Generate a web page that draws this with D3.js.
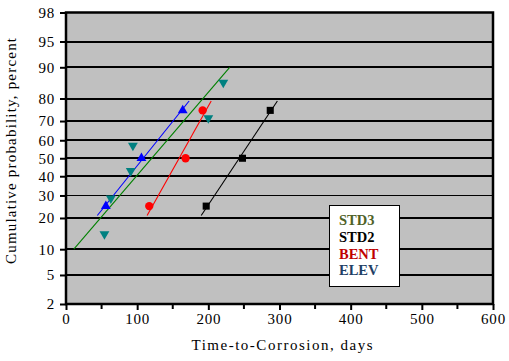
<!DOCTYPE html>
<html><head><meta charset="utf-8">
<script src="https://cdn.jsdelivr.net/npm/d3@7"></script>
<style>body{margin:0;background:#fff}svg{display:block}</style>
</head><body>
<svg id="c" width="509" height="361"></svg>
<script>
// ---- data ----
const xTicks = [0,100,200,300,400,500,600];
const xMinorTicks = [50,150,250,350,450,550];
const yTicks = [2,5,10,20,30,40,50,60,70,80,90,95,98];
const legendLabels = ["STD3","STD2","BENT","ELEV"];

const std3Days = [54, 63, 91, 94, 200, 221];
const std3Prob = [14.3, 28.6, 42.9, 57.1, 71.4, 85.7];
const std2Days = [197, 248, 287];
const std2Prob = [25, 50, 75];
const bentDays = [117, 168, 192];
const bentProb = [25, 50, 75];
const elevDays = [56, 106, 164];
const elevProb = [25, 50, 75];

// fitted-line end points [days, percent]
const std3FitDays = [11, 230];
const std3FitProb = [10, 90];
const std2FitDays = [190, 297];
const std2FitProb = [21, 79];
const bentFitDays = [114, 204];
const bentFitProb = [21, 79];
const elevFitDays = [44, 173];
const elevFitProb = [21, 79];

// ---- helpers ----
function probit(p){ // inverse normal CDF (Acklam)
  const a=[-3.969683028665376e+01,2.209460984245205e+02,-2.759285104469687e+02,1.383577518672690e+02,-3.066479806614716e+01,2.506628277459239e+00];
  const b=[-5.447609879822406e+01,1.615858368580409e+02,-1.556989798598866e+02,6.680131188771972e+01,-1.328068155288572e+01];
  const c=[-7.784894002430293e-03,-3.223964580411365e-01,-2.400758277161838e+00,-2.549732539343734e+00,4.374664141464968e+00,2.938163982698783e+00];
  const d=[7.784695709041462e-03,3.224671290700398e-01,2.445134137142996e+00,3.754408661907416e+00];
  const pl=0.02425, ph=1-pl; let q,r;
  if(p<pl){q=Math.sqrt(-2*Math.log(p));return (((((c[0]*q+c[1])*q+c[2])*q+c[3])*q+c[4])*q+c[5])/((((d[0]*q+d[1])*q+d[2])*q+d[3])*q+1);}
  if(p<=ph){q=p-0.5;r=q*q;return (((((a[0]*r+a[1])*r+a[2])*r+a[3])*r+a[4])*r+a[5])*q/(((((b[0]*r+b[1])*r+b[2])*r+b[3])*r+b[4])*r+1);}
  q=Math.sqrt(-2*Math.log(1-p));return -(((((c[0]*q+c[1])*q+c[2])*q+c[3])*q+c[4])*q+c[5])/((((d[0]*q+d[1])*q+d[2])*q+d[3])*q+1);
}

const FONT = "'Liberation Serif', 'Times New Roman', serif";
const L=66, R=493, T=12.5, B=304;
const svg = d3.select("#c");
const x = d3.scaleLinear().domain([0,600]).range([L,R]);
const yz = d3.scaleLinear().domain([probit(0.02), probit(0.98)]).range([B,T]);
const y = p => yz(probit(p/100));

// background
svg.append("rect").attr("x",L).attr("y",T).attr("width",R-L).attr("height",B-T).attr("fill","#c0c0c0");

// gridlines
const gy = d => d===30 ? Math.round(y(d))+0.5 : Math.round(y(d));
svg.append("g").selectAll("line").data(yTicks.filter(v=>v>2&&v<98)).join("line")
  .attr("x1",L).attr("x2",R).attr("y1",gy).attr("y2",gy)
  .attr("stroke","#000").attr("stroke-width",d=>d===30?1:2);

// axes
const yAxis = d3.axisLeft(d3.scaleLinear().domain(yz.domain()).range(yz.range()))
  .tickValues(yTicks.map(v=>probit(v/100))).tickFormat((d,i)=>yTicks[i]).tickSize(6).tickPadding(5);
const ga = svg.append("g").attr("transform",`translate(${L},0)`).call(yAxis);
ga.select(".domain").remove();
ga.selectAll(".tick line").attr("stroke","#000").attr("stroke-width",2);
ga.selectAll("text").attr("font-family",FONT).attr("font-size",15).attr("letter-spacing",0.8).attr("fill","#000");

const xAxis = d3.axisBottom(x).tickValues(xTicks).tickSize(6).tickPadding(3).tickFormat(d3.format("d"));
const gx = svg.append("g").attr("transform",`translate(0,${B})`).call(xAxis);
gx.select(".domain").remove();
gx.selectAll(".tick line").attr("stroke","#000").attr("stroke-width",2);
gx.selectAll("text").attr("font-family",FONT).attr("font-size",15).attr("letter-spacing",0.8).attr("fill","#000");
svg.append("g").selectAll("line").data(xMinorTicks).join("line")
  .attr("x1",d=>x(d)).attr("x2",d=>x(d)).attr("y1",B).attr("y2",B+5).attr("stroke","#000").attr("stroke-width",2);

// frame
svg.append("rect").attr("x",L).attr("y",T).attr("width",R-L).attr("height",B-T)
  .attr("fill","none").attr("stroke","#000").attr("stroke-width",2.5);

// fit lines
const fits = [
  {d:std3FitDays,p:std3FitProb,c:"#008000"},
  {d:std2FitDays,p:std2FitProb,c:"#000000"},
  {d:bentFitDays,p:bentFitProb,c:"#ff0000"},
  {d:elevFitDays,p:elevFitProb,c:"#0000ff"}
];
const line = d3.line().x(d=>x(d[0])).y(d=>y(d[1]));
fits.forEach(f=>{
  svg.append("path").attr("d",line(d3.zip(f.d,f.p))).attr("fill","none").attr("stroke",f.c).attr("stroke-width",1.1);
});

// markers
function pts(days,prob,sym,size,col,rot){
  svg.append("g").selectAll("path").data(d3.zip(days,prob)).join("path")
    .attr("d",d3.symbol().type(sym).size(size))
    .attr("transform",d=>`translate(${x(d[0])},${y(d[1])}) rotate(${rot})`)
    .attr("fill",col);
}
pts(std3Days,std3Prob,d3.symbolTriangle,42,"#008080",180);
pts(std2Days,std2Prob,d3.symbolSquare,50,"#000000",0);
pts(bentDays,bentProb,d3.symbolCircle,55,"#ff0000",0);
pts(elevDays,elevProb,d3.symbolTriangle,42,"#0000ff",0);

// legend
svg.append("rect").attr("x",329.5).attr("y",205.5).attr("width",70).attr("height",81)
  .attr("fill","#fff").attr("stroke","#000").attr("stroke-width",1);
const legCols = ["#4f6228","#000000","#c00000","#1f3f66"];
svg.append("g").selectAll("text").data(legendLabels).join("text")
  .attr("x",339).attr("y",(d,i)=>225+i*16.8).text(d=>d)
  .attr("font-family",FONT).attr("font-weight","bold")
  .attr("font-size",14.5).attr("fill",(d,i)=>legCols[i]);

// titles
svg.append("text").attr("x",191.5).attr("y",350)
  .attr("textLength",181).attr("lengthAdjust","spacing")
  .attr("font-family",FONT).attr("font-size",15).text("Time-to-Corrosion, days");
svg.append("text").attr("transform","translate(16,264) rotate(-90)")
  .attr("textLength",226).attr("lengthAdjust","spacing")
  .attr("font-family",FONT).attr("font-size",15).text("Cumulative probability, percent");
</script>
</body></html>
